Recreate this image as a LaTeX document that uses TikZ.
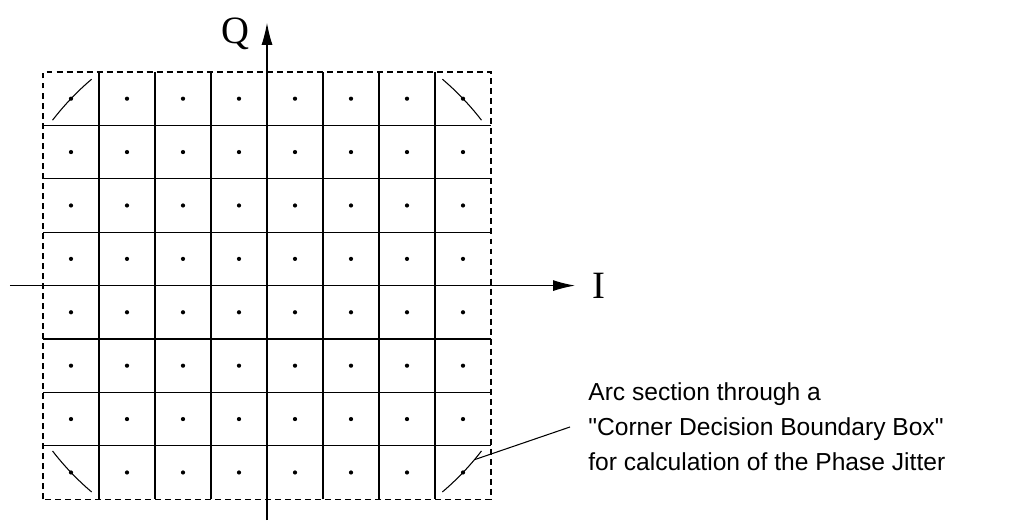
\documentclass[tikz,border=0pt]{standalone}
\usepackage{fontspec}
\setmainfont{Liberation Serif}
\newfontfamily\notefont{Liberation Sans}
\usetikzlibrary{arrows.meta, positioning, calc}

\tikzset{
    gridline/.style={line width=0.6pt},
    boxline/.style={line width=0.6pt, dash pattern=on 3.4pt off 2.3pt},
    axis/.style={line width=0.6pt, -{Latex[length=0.44cm, width=0.22cm]}},
    arcline/.style={line width=0.6pt},
    axislabel/.style={font=\fontsize{22}{26}\selectfont, inner sep=0pt},
    notetext/.style={font=\notefont\fontsize{14}{20}\selectfont, align=left, inner xsep=0.36cm}
}

\begin{document}
\begin{tikzpicture}[x=1.12cm, y=1.068cm]
    \useasboundingbox (-4.768,-4.483) rectangle (13.732,5.348);

    % Inner decision boundaries
    \foreach \k in {-3,...,3} {
        \draw[gridline] (\k,-4) -- (\k,4);
        \draw[gridline] (-4,\k) -- (4,\k);
    }

    % Outer boundary (dashed)
    \draw[boxline] (-4,-4) rectangle (4,4);

    % Constellation points
    \foreach \x in {-3.5,-2.5,...,3.5} {
        \foreach \y in {-3.5,-2.5,...,3.5} {
            \fill (\x,\y) circle (0.042cm);
        }
    }

    % Arc sections through the corner points
    \foreach \a in {43.64, 136.36, 223.64, 316.36} {
        \draw[arcline] (\a-6:5.417cm) arc[start angle=\a-6, end angle=\a+6, radius=5.417cm];
    }

    % Axes
    \coordinate (ibeg) at (-4.59,0);
    \coordinate (iend) at (5.5,0);
    \coordinate (qbeg) at (0,-4.39);
    \coordinate (qend) at (0,4.92);
    \draw[axis] (ibeg) -- (iend);
    \draw[axis] (qbeg) -- (qend);
    \node[axislabel, right=0.34cm of iend] (ilabel) {I};
    \node[axislabel, anchor=east] (qlabel) at (-0.3,4.72) {Q};

    % Annotation
    \coordinate (arcpt) at (320:5.417cm);
    \node[notetext, anchor=west] (note) at (5.411,-2.648)
        {Arc section through a\\"Corner Decision Boundary Box"\\for calculation of the Phase Jitter};
    \draw[gridline] (arcpt) -- (note.west);
\end{tikzpicture}
\end{document}
